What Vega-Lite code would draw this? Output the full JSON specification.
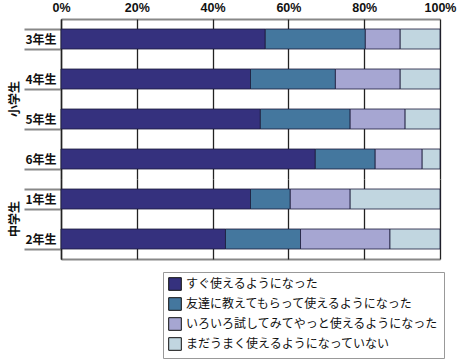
{
  "$schema": "https://vega.github.io/schema/vega-lite/v6.json",
  "padding": {"left": 9, "top": 1, "right": 19, "bottom": 5},
  "background": "white",
  "bounds": "flush",
  "data": {
    "values": [
      {"school": "小学生", "grade": "3年生", "cat": "すぐ使えるようになった", "o": 1, "value": 53.9},
      {"school": "小学生", "grade": "3年生", "cat": "友達に教えてもらって使えるようになった", "o": 2, "value": 26.4},
      {"school": "小学生", "grade": "3年生", "cat": "いろいろ試してみてやっと使えるようになった", "o": 3, "value": 9.2},
      {"school": "小学生", "grade": "3年生", "cat": "まだうまく使えるようになっていない", "o": 4, "value": 10.5},
      {"school": "小学生", "grade": "4年生", "cat": "すぐ使えるようになった", "o": 1, "value": 50.0},
      {"school": "小学生", "grade": "4年生", "cat": "友達に教えてもらって使えるようになった", "o": 2, "value": 22.4},
      {"school": "小学生", "grade": "4年生", "cat": "いろいろ試してみてやっと使えるようになった", "o": 3, "value": 17.1},
      {"school": "小学生", "grade": "4年生", "cat": "まだうまく使えるようになっていない", "o": 4, "value": 10.5},
      {"school": "小学生", "grade": "5年生", "cat": "すぐ使えるようになった", "o": 1, "value": 52.6},
      {"school": "小学生", "grade": "5年生", "cat": "友達に教えてもらって使えるようになった", "o": 2, "value": 23.7},
      {"school": "小学生", "grade": "5年生", "cat": "いろいろ試してみてやっと使えるようになった", "o": 3, "value": 14.5},
      {"school": "小学生", "grade": "5年生", "cat": "まだうまく使えるようになっていない", "o": 4, "value": 9.2},
      {"school": "小学生", "grade": "6年生", "cat": "すぐ使えるようになった", "o": 1, "value": 67.1},
      {"school": "小学生", "grade": "6年生", "cat": "友達に教えてもらって使えるようになった", "o": 2, "value": 15.8},
      {"school": "小学生", "grade": "6年生", "cat": "いろいろ試してみてやっと使えるようになった", "o": 3, "value": 12.4},
      {"school": "小学生", "grade": "6年生", "cat": "まだうまく使えるようになっていない", "o": 4, "value": 4.7},
      {"school": "中学生", "grade": "1年生", "cat": "すぐ使えるようになった", "o": 1, "value": 50.0},
      {"school": "中学生", "grade": "1年生", "cat": "友達に教えてもらって使えるようになった", "o": 2, "value": 10.5},
      {"school": "中学生", "grade": "1年生", "cat": "いろいろ試してみてやっと使えるようになった", "o": 3, "value": 15.8},
      {"school": "中学生", "grade": "1年生", "cat": "まだうまく使えるようになっていない", "o": 4, "value": 23.7},
      {"school": "中学生", "grade": "2年生", "cat": "すぐ使えるようになった", "o": 1, "value": 43.4},
      {"school": "中学生", "grade": "2年生", "cat": "友達に教えてもらって使えるようになった", "o": 2, "value": 19.8},
      {"school": "中学生", "grade": "2年生", "cat": "いろいろ試してみてやっと使えるようになった", "o": 3, "value": 23.6},
      {"school": "中学生", "grade": "2年生", "cat": "まだうまく使えるようになっていない", "o": 4, "value": 13.2}
    ]
  },
  "facet": {
    "row": {
      "field": "school",
      "type": "nominal",
      "sort": ["小学生", "中学生"],
      "title": null,
      "header": {
        "labelAngle": -90,
        "labelOrient": "left",
        "labelFont": "Noto Sans CJK JP",
        "labelFontSize": 12,
        "labelFontWeight": "bold",
        "labelColor": "#111",
        "labelPadding": 34
      }
    }
  },
  "spacing": {"row": 0},
  "resolve": {"scale": {"y": "independent"}},
  "spec": {
    "width": 379,
    "height": {"step": 40},
    "encoding": {
      "y": {
        "field": "grade",
        "type": "nominal",
        "sort": null,
        "title": null,
        "scale": {"paddingInner": 0.5, "paddingOuter": 0.25},
        "axis": {
          "tickBand": "extent",
          "tickSize": 37,
          "tickColor": "#888",
          "tickWidth": 2,
          "labelPadding": -32,
          "labelFont": "Noto Sans CJK JP",
          "labelFontSize": 12,
          "labelFontWeight": "bold",
          "labelColor": "#111",
          "domainColor": "#222",
          "domainWidth": 1.5,
          "grid": false
        }
      }
    },
    "layer": [
      {
        "mark": {"type": "bar", "opacity": 0},
        "encoding": {
          "x": {
            "field": "value",
            "type": "quantitative",
            "stack": "normalize",
            "title": null,
            "scale": {"domain": [0, 1], "nice": false},
            "axis": {
              "orient": "bottom",
              "labels": false,
              "ticks": false,
              "grid": false,
              "domainColor": "#888",
              "domainWidth": 2
            }
          }
        }
      },
      {
        "mark": {"type": "bar", "stroke": "#1a1a3a", "strokeWidth": 0.8},
        "encoding": {
          "x": {
            "field": "value",
            "type": "quantitative",
            "stack": "normalize",
            "title": null,
            "scale": {"domain": [0, 1], "nice": false},
            "axis": {
              "orient": "top",
              "format": ".0%",
              "values": [0, 0.2, 0.4, 0.6, 0.8, 1],
              "ticks": false,
              "labelPadding": 5,
              "labelFont": "Liberation Sans",
              "labelFontSize": 12.5,
              "labelFontWeight": "bold",
              "labelColor": "#111",
              "labelFlush": false,
              "labelBound": false,
              "domainColor": "#888",
              "domainWidth": 2,
              "grid": true,
              "gridColor": "#222",
              "gridWidth": 1.3
            }
          },
          "color": {
            "field": "cat",
            "type": "nominal",
            "sort": ["すぐ使えるようになった", "友達に教えてもらって使えるようになった", "いろいろ試してみてやっと使えるようになった", "まだうまく使えるようになっていない"],
            "scale": {
              "domain": ["すぐ使えるようになった", "友達に教えてもらって使えるようになった", "いろいろ試してみてやっと使えるようになった", "まだうまく使えるようになっていない"],
              "range": ["#35317E", "#44779E", "#A6A6D2", "#C1D6E0"]
            },
            "legend": {
              "title": null,
              "orient": "none",
              "legendX": 102,
              "legendY": 253,
              "direction": "vertical",
              "symbolType": "square",
              "symbolSize": 160,
              "symbolStrokeColor": "#111",
              "symbolStrokeWidth": 1,
              "symbolOpacity": 1,
              "labelFont": "Noto Sans CJK JP",
              "labelFontSize": 12,
              "labelColor": "#111",
              "labelLimit": 400,
              "labelOffset": 4,
              "rowPadding": 2,
              "padding": 5,
              "strokeColor": "#999",
              "fillColor": "white"
            }
          },
          "order": {"field": "o", "type": "quantitative"}
        }
      }
    ],
    "resolve": {"axis": {"x": "independent"}}
  },
  "config": {
    "view": {"stroke": null}
  }
}
